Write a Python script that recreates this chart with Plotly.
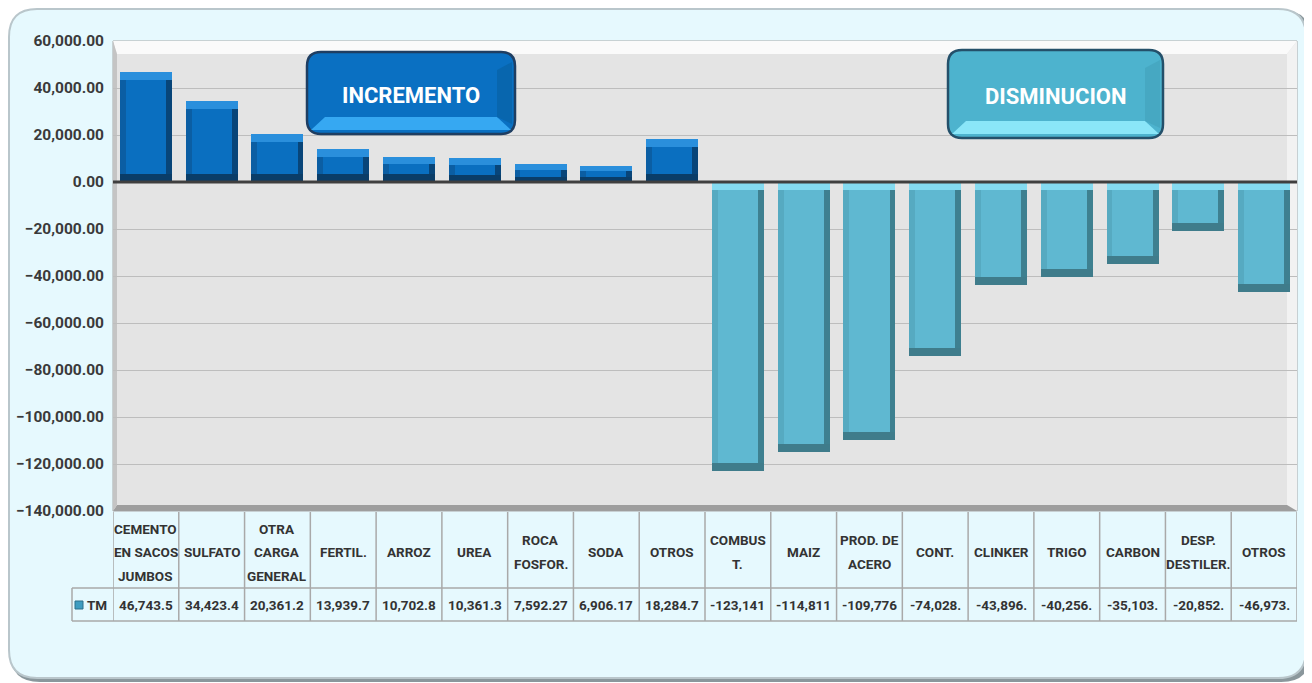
import plotly.graph_objects as go

# ---------------- data ----------------
categories = [
    "CEMENTO\nEN SACOS\nJUMBOS", "SULFATO", "OTRA\nCARGA\nGENERAL", "FERTIL.", "ARROZ",
    "UREA", "ROCA\nFOSFOR.", "SODA", "OTROS", "COMBUS\nT.", "MAIZ", "PROD. DE\nACERO",
    "CONT.", "CLINKER", "TRIGO", "CARBON", "DESP.\nDESTILER.", "OTROS",
]
values_tm = [
    46743.5, 34423.4, 20361.2, 13939.7, 10702.8, 10361.3, 7592.27, 6906.17, 18284.7,
    -123141, -114811, -109776, -74028, -43896, -40256, -35103, -20852, -46973,
]
table_labels = [
    "46,743.5", "34,423.4", "20,361.2", "13,939.7", "10,702.8", "10,361.3", "7,592.27",
    "6,906.17", "18,284.7", "-123,141", "-114,811", "-109,776", "-74,028.", "-43,896.",
    "-40,256.", "-35,103.", "-20,852.", "-46,973.",
]
series_name = "TM"
y_ticks = [60000, 40000, 20000, 0, -20000, -40000, -60000, -80000, -100000, -120000, -140000]
badge_up = "INCREMENTO"
badge_down = "DISMINUCION"

# ---------------- geometry (page pixels; the page body has an 8px margin) ----------------
OFF = 8
W, H = 1312 - OFF, 683 - OFF
PL, PR, PT, PB = 113, 1297, 41, 511   # plot area in page pixels


def xp(px):
    return (px - PL) / (PR - PL)


def yp(py):
    return (PB - py) / (PB - PT)


def rrect(x0, y0, x1, y1, r):
    rx = r / (PR - PL)
    ry = r / (PB - PT)
    a, b, c, d = xp(x0), yp(y0), xp(x1), yp(y1)
    return (f"M {a+rx},{b} L {c-rx},{b} Q {c},{b} {c},{b-ry} L {c},{d+ry} "
            f"Q {c},{d} {c-rx},{d} L {a+rx},{d} Q {a},{d} {a},{d+ry} L {a},{b-ry} "
            f"Q {a},{b} {a+rx},{b} Z")


def poly(pts):
    return "M " + " L ".join(f"{xp(x)},{yp(y)}" for x, y in pts) + " Z"


FONT = "Roboto, Liberation Sans, sans-serif"
TXT = "#333333"
n = len(values_tm)
xs = list(range(n))

# ---------------- bars with bevel look ----------------
units_per_px = 200000 / (PB - PT)
bw = 0.79
bx = 0.09
bevel = [min(8 * units_per_px, abs(v) * 0.3) for v in values_tm]
pos = [v >= 0 for v in values_tm]
bottoms = [0 if p else v for v, p in zip(values_tm, pos)]
tops = [v if p else 0 for v, p in zip(values_tm, pos)]
heights = [abs(v) for v in values_tm]


def pick(c_pos, c_neg):
    return [c_pos if p else c_neg for p in pos]


fig = go.Figure()
fig.add_trace(go.Bar(x=xs, y=heights, base=bottoms, width=bw / 2, offset=-bw / 2,
                     marker=dict(color=pick("#0B5EA3", "#56AAC1"), line=dict(width=0)),
                     showlegend=False, hoverinfo="skip"))
fig.add_trace(go.Bar(x=xs, y=heights, base=bottoms, width=bw / 2, offset=0,
                     marker=dict(color=pick("#084579", "#3E8090"), line=dict(width=0)),
                     showlegend=False, hoverinfo="skip"))
fig.add_trace(go.Bar(x=xs, y=bevel, base=[t - b for t, b in zip(tops, bevel)], width=bw,
                     marker=dict(color=pick("#2A8FDC", "#84DAF0"), line=dict(width=0)),
                     showlegend=False, hoverinfo="skip"))
fig.add_trace(go.Bar(x=xs, y=bevel, base=bottoms, width=bw,
                     marker=dict(color=pick("#0A3D68", "#3F7C8B"), line=dict(width=0)),
                     showlegend=False, hoverinfo="skip"))
fig.add_trace(go.Bar(x=xs, y=[max(h - 2 * b, 0) for h, b in zip(heights, bevel)],
                     base=[bo + b for bo, b in zip(bottoms, bevel)], width=bw - 2 * bx,
                     marker=dict(color=pick("#0A6FC0", "#5FB8D1"), line=dict(width=0)),
                     name=series_name, showlegend=False,
                     customdata=values_tm, hovertemplate="%{customdata:,.2f}<extra></extra>"))

shapes = []
# outer frame shadow + frame
shapes.append(dict(type="path", xref="paper", yref="paper", path=rrect(10, 10, 1311, 682, 30),
                   fillcolor="#8A979C", line=dict(width=0), layer="below"))
shapes.append(dict(type="path", xref="paper", yref="paper", path=rrect(9, 9, 1306, 678, 28),
                   fillcolor="#E6F9FE", line=dict(color="#B9C6CB", width=2), layer="below"))
# plot area with bevel
shapes.append(dict(type="rect", xref="paper", yref="paper", x0=xp(PL), x1=xp(PR), y0=yp(PB), y1=yp(PT),
                   fillcolor="#E4E4E4", line=dict(color="#A8A8A8", width=1), layer="below"))
shapes.append(dict(type="path", xref="paper", yref="paper",
                   path=poly([(PL, PT), (PR, PT), (PR - 10, PT + 13), (PL + 4, PT + 13)]),
                   fillcolor="#FAFAFA", line=dict(width=0), layer="below"))
shapes.append(dict(type="path", xref="paper", yref="paper",
                   path=poly([(PR, PT), (PR, PB), (PR - 10, PB - 6), (PR - 10, PT + 13)]),
                   fillcolor="#F2F2F2", line=dict(width=0), layer="below"))
shapes.append(dict(type="path", xref="paper", yref="paper",
                   path=poly([(PL, PB), (PR, PB), (PR - 10, PB - 6), (PL + 4, PB - 6)]),
                   fillcolor="#9E9E9E", line=dict(width=0), layer="below"))
shapes.append(dict(type="path", xref="paper", yref="paper",
                   path=poly([(PL, PT), (PL + 4, PT + 13), (PL + 4, PB - 6), (PL, PB)]),
                   fillcolor="#C4C4C4", line=dict(width=0), layer="below"))

# zero line
shapes.append(dict(type="line", xref="paper", yref="y", x0=0, x1=1, y0=0, y1=0,
                   line=dict(color="#3F3F3F", width=3), layer="above"))


def badge(x0, y0, x1, y1, face, light, dark, border):
    out = [dict(type="path", xref="paper", yref="paper", path=rrect(x0, y0, x1, y1, 14),
                fillcolor=face, line=dict(color=border, width=2.5), layer="above")]
    i = 14
    out.append(dict(type="path", xref="paper", yref="paper",
                    path=poly([(x0 + 4, y1 - 4), (x1 - 4, y1 - 4), (x1 - i - 4, y1 - i - 3), (x0 + i + 4, y1 - i - 3)]),
                    fillcolor=light, line=dict(width=0), layer="above"))
    out.append(dict(type="path", xref="paper", yref="paper",
                    path=poly([(x1 - 3, y0 + 10), (x1 - 3, y1 - 10), (x1 - i - 4, y1 - i - 3), (x1 - i - 4, y0 + i + 4)]),
                    fillcolor=dark, line=dict(width=0), layer="above"))
    return out


shapes += badge(307, 52, 515, 134, "#0A70C2", "#36A8F2", "#0866AE", "#1F3E62")
shapes += badge(948, 50, 1163, 138, "#4DB3CE", "#8AE6F8", "#46A8C2", "#24506A")

# table lines
TBL_TOP, ROW_DIV, TBL_BOT, LEG_L = 512, 588, 621, 72
grid_col = "#A9A9A9"
for k in range(n + 1):
    shapes.append(dict(type="line", xref="x", yref="paper", x0=k - 0.5, x1=k - 0.5,
                       y0=yp(TBL_TOP), y1=yp(TBL_BOT), line=dict(color=grid_col, width=1.5)))
shapes.append(dict(type="line", xref="paper", yref="paper", x0=xp(LEG_L), x1=xp(LEG_L),
                   y0=yp(ROW_DIV), y1=yp(TBL_BOT), line=dict(color=grid_col, width=1.5)))
for yy in (ROW_DIV, TBL_BOT):
    shapes.append(dict(type="line", xref="paper", yref="paper", x0=xp(LEG_L), x1=1,
                       y0=yp(yy), y1=yp(yy), line=dict(color=grid_col, width=1.5)))
shapes.append(dict(type="rect", xref="paper", yref="paper", x0=xp(75), x1=xp(83), y0=yp(609), y1=yp(601),
                   fillcolor="#3F9CC0", line=dict(color="#2C6F8A", width=1)))

annotations = []
for i, cat in enumerate(categories):
    lines = cat.split("\n")
    m = len(lines)
    for j, ln in enumerate(lines):
        cy = 552 + (j - (m - 1) / 2) * 23.5
        annotations.append(dict(x=i, y=yp(cy), xref="x", yref="paper", text=ln, showarrow=False,
                                xanchor="center", yanchor="middle",
                                font=dict(family=FONT, size=13.5, color=TXT, weight="bold")))
for i, lab in enumerate(table_labels):
    annotations.append(dict(x=i, y=yp(605), xref="x", yref="paper", text=lab, showarrow=False,
                            xanchor="center", yanchor="middle",
                            font=dict(family=FONT, size=13.5, color=TXT, weight="bold")))
annotations.append(dict(x=xp(85), y=yp(605), xref="paper", yref="paper", text=series_name, showarrow=False,
                        xanchor="left", yanchor="middle",
                        font=dict(family=FONT, size=13.5, color=TXT, weight="bold")))
annotations.append(dict(x=xp(411), y=yp(95), xref="paper", yref="paper", text=badge_up, showarrow=False,
                        xanchor="center", yanchor="middle",
                        font=dict(family=FONT, size=22, color="#FFFFFF", weight="bold")))
annotations.append(dict(x=xp(1056), y=yp(97), xref="paper", yref="paper", text=badge_down, showarrow=False,
                        xanchor="center", yanchor="middle",
                        font=dict(family=FONT, size=22, color="#FFFFFF", weight="bold")))

fig.update_layout(
    width=W, height=H,
    margin=dict(l=PL - OFF, r=W - (PR - OFF), t=PT - OFF, b=H - (PB - OFF), autoexpand=False),
    paper_bgcolor="#FFFFFF", plot_bgcolor="rgba(0,0,0,0)",
    barmode="overlay", bargap=0,
    shapes=shapes, annotations=annotations,
    xaxis=dict(range=[-0.5, n - 0.5], showticklabels=False, showgrid=False, zeroline=False,
               showline=False, fixedrange=True, automargin=False),
    yaxis=dict(range=[-140000, 60000], tickvals=y_ticks, tickformat=",.2f", automargin=False,
               showgrid=True, gridcolor="#BDBDBD", gridwidth=1, zeroline=False, showline=False,
               ticks="", ticklabelstandoff=8,
               tickfont=dict(family=FONT, size=15.5, color="#3A3A3A", weight="bold")),
    font=dict(family=FONT),
)

fig.write_html("out.html")
